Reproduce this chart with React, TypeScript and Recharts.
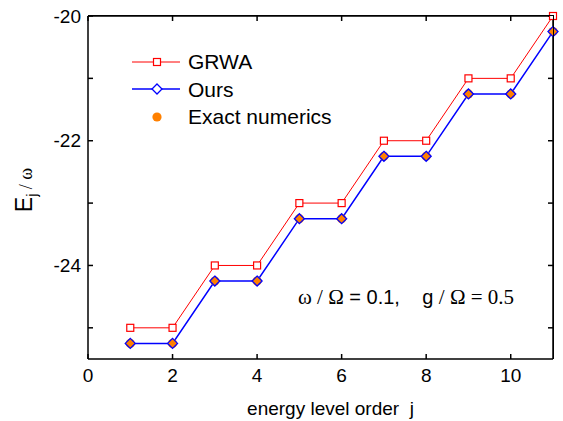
import React from 'react';
import { ComposedChart, Line, XAxis, YAxis } from 'recharts';

const levels = [1, 2, 3, 4, 5, 6, 7, 8, 9, 10, 11];
const grwa = [-25, -25, -24, -24, -23, -23, -22, -22, -21, -21, -20];
const ours = [-25.25, -25.25, -24.25, -24.25, -23.25, -23.25, -22.25, -22.25, -21.25, -21.25, -20.25];
const exact = [-25.25, -25.25, -24.25, -24.25, -23.25, -23.25, -22.25, -22.25, -21.25, -21.25, -20.25];
const xTicks = [0, 2, 4, 6, 8, 10];
const yTicks = [-25, -24, -23, -22, -21, -20];

const data = levels.map((j, i) => ({ j, grwa: grwa[i], ours: ours[i], exact: exact[i] }));

const SANS = '"Liberation Sans", Arial, sans-serif';
const SERIF = '"Liberation Serif", "Times New Roman", serif';
const RED = '#FF0000';
const BLUE = '#0000FF';
const ORANGE = '#FF8000';

const Square = (props: any) => {
  const { cx, cy } = props;
  if (cx == null || cy == null) return null;
  return <rect x={cx - 3.5} y={cy - 3.5} width={7} height={7} fill="#fff" stroke={RED} strokeWidth={1.2} />;
};

const Diamond = (props: any) => {
  const { cx, cy } = props;
  if (cx == null || cy == null) return null;
  return <path d={`M${cx},${cy - 5}L${cx + 5},${cy}L${cx},${cy + 5}L${cx - 5},${cy}Z`} fill="none" stroke={BLUE} strokeWidth={1.3} />;
};

const Dot = (props: any) => {
  const { cx, cy } = props;
  if (cx == null || cy == null) return null;
  return <circle cx={cx} cy={cy} r={4.6} fill={ORANGE} stroke="none" />;
};

const YLabel = () => (
  <text transform="rotate(-90, 32, 190)" x={32} y={190} textAnchor="middle" fill="#000">
    <tspan fontFamily={SANS} fontSize={23}>E</tspan>
    <tspan fontFamily={SANS} fontSize={14} dy={5}>j</tspan>
    <tspan fontFamily={SERIF} fontSize={18} dy={-5}>{'\u00a0/\u00a0ω'}</tspan>
  </text>
);

const legendRows = [
  { name: 'GRWA', color: RED, kind: 'square' },
  { name: 'Ours', color: BLUE, kind: 'diamond' },
  { name: 'Exact numerics', color: ORANGE, kind: 'dot' },
];

function LegendBox() {
  return (
    <div style={{ position: 'absolute', left: 130, top: 48, fontFamily: SANS, fontSize: 21 }}>
      {legendRows.map((r) => (
        <div key={r.name} style={{ display: 'flex', alignItems: 'center', height: 27.5 }}>
          <svg width={54} height={20}>
            {r.kind !== 'dot' && <line x1={2} y1={10} x2={50} y2={10} stroke={r.color} strokeWidth={r.kind === 'diamond' ? 1.5 : 1} />}
            {r.kind === 'square' && <rect x={23.5} y={6.5} width={7} height={7} fill="#fff" stroke={RED} strokeWidth={1.2} />}
            {r.kind === 'diamond' && <path d="M27,5L32,10L27,15L22,10Z" fill="#fff" stroke={BLUE} strokeWidth={1.3} />}
            {r.kind === 'dot' && <circle cx={27} cy={10} r={4.6} fill={ORANGE} />}
          </svg>
          <span style={{ marginLeft: 4, lineHeight: 1 }}>{r.name}</span>
        </div>
      ))}
    </div>
  );
}

function Note() {
  return (
    <div style={{ position: 'absolute', left: 298, top: 287, whiteSpace: 'pre', lineHeight: 1 }}>
      <span style={{ fontFamily: SERIF, fontSize: 21 }}>ω / Ω</span>
      <span style={{ fontFamily: SANS, fontSize: 20 }}> = 0.1,    g </span>
      <span style={{ fontFamily: SERIF, fontSize: 21 }}>/ Ω = 0.5</span>
    </div>
  );
}

// top and right edges of the plot box
function Frame() {
  return (
    <div
      style={{
        position: 'absolute',
        left: 88,
        top: 15.25,
        width: 465.75,
        height: 343.75,
        boxSizing: 'border-box',
        borderTop: '1.5px solid #000',
        borderRight: '1.5px solid #000',
        pointerEvents: 'none',
      }}
    />
  );
}

export default function App() {
  return (
    <div style={{ position: 'absolute', left: 0, top: 0, width: 563, height: 421, background: '#fff' }}>
      <ComposedChart width={563} height={421} data={data} margin={{ top: 0, right: 0, bottom: 32, left: 28 }}>
        <XAxis
          xAxisId="bottom"
          dataKey="j"
          type="number"
          domain={[0, 11]}
          ticks={xTicks}
          height={30}
          tickSize={-5}
          tickMargin={15}
          stroke="#000"
          strokeWidth={1.5}
          tick={{ fill: '#000', fontSize: 19, fontFamily: SANS }}
          label={{ value: 'energy level order\u00a0\u00a0j', position: 'insideBottom', offset: -26, dx: 10, fill: '#000', fontSize: 19, fontFamily: SANS }}
        />
        <XAxis
          xAxisId="top"
          orientation="top"
          dataKey="j"
          type="number"
          domain={[0, 11]}
          ticks={xTicks}
          height={16}
          tickSize={-5}
          tickFormatter={() => ''}
          stroke="#000"
          strokeWidth={1.5}
        />
        <YAxis
          yAxisId="left"
          type="number"
          domain={[-25.5, -20]}
          ticks={yTicks}
          width={60}
          tickSize={-5}
          tickMargin={12}
          stroke="#000"
          strokeWidth={1.5}
          tickFormatter={(v: number) => (v % 2 === 0 ? String(v) : '')}
          tick={{ fill: '#000', fontSize: 19, fontFamily: SANS }}
          label={{ content: YLabel }}
        />
        <YAxis
          yAxisId="right"
          orientation="right"
          type="number"
          domain={[-25.5, -20]}
          ticks={yTicks}
          width={10}
          tickSize={-5}
          tickFormatter={() => ''}
          stroke="#000"
          strokeWidth={1.5}
        />
        <Line xAxisId="top" yAxisId="right" dataKey="grwa" stroke="none" dot={false} activeDot={false} isAnimationActive={false} legendType="none" />
        <Line xAxisId="bottom" yAxisId="left" type="linear" dataKey="grwa" stroke={RED} strokeWidth={1} dot={<Square />} isAnimationActive={false} />
        <Line xAxisId="bottom" yAxisId="left" type="linear" dataKey="ours" stroke={BLUE} strokeWidth={1.5} dot={false} isAnimationActive={false} />
        <Line xAxisId="bottom" yAxisId="left" type="linear" dataKey="exact" stroke="none" dot={<Dot />} isAnimationActive={false} />
        <Line xAxisId="bottom" yAxisId="left" type="linear" dataKey="ours" stroke="none" dot={<Diamond />} isAnimationActive={false} />
      </ComposedChart>
      <Frame />
      <LegendBox />
      <Note />
    </div>
  );
}
